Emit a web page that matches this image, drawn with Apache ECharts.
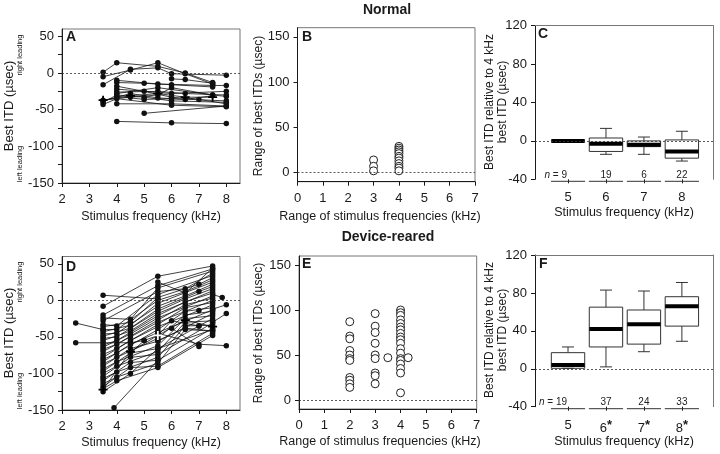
<html>
<head>
<meta charset="utf-8">
<script src="https://cdn.jsdelivr.net/npm/echarts@6/dist/echarts.min.js"></script>
</head>
<body>
<style>
    html, body, #main { width: 720px; height: 454px; margin: 0; background: #fff; }
</style>
<div id="main"></div>
<script>
// ---- data ----
// best ITD vs frequency, one array per unit (Normal)
var normalLines = [
    [[3.5, 1], [4, 14], [5.5, 9], [6.5, 0], [7.5, -13]],
    [[3.5, -5], [4.5, 4], [5.5, 14], [6.5, -1], [7.5, -15]],
    [[3.5, -16], [4.5, 5], [5.5, 7], [6, -1], [8, -3]],
    [[4, -10], [5.5, -15], [7.5, -17], [8, -17]],
    [[4, -13], [5, -14], [6, -16], [7.5, -19]],
    [[4, -22], [6, -28], [8, -25]],
    [[4, -28], [5.5, -20], [7.5, -30], [8, -32]],
    [[4, -32], [5, -36], [6, -35], [8, -38]],
    [[4, -42], [6, -42], [8, -45]],
    [[3.5, -40], [4, -30], [5, -33], [6, -38], [8, -40]],
    [[3.5, -43], [4, -35], [6, -44], [8, -46]],
    [[3.5, -37], [4.5, -33], [5.5, -30], [6, -20], [7.5, -30]],
    [[4, -66], [6, -68], [8, -69]],
    [[5, -55], [8, -45]],
    [[4, -26], [5.5, -25], [6.5, -28], [8, -30]],
    [[4, -18], [5, -25], [6, -33], [7, -36], [8, -42]],
    [[3.5, -38], [4.5, -28], [5.5, -34], [6.5, -36], [7.5, -31]],
    [[6, -8], [6.5, -9], [7.5, -14]]
];
var normalMean = [[3.5, -37], [4.5, -31], [5.5, -28], [6.5, -33], [7.5, -33]];

// best ITD vs frequency (Device-reared)
var rearedLines = [
    [[2.5, -31], [3.5, -40]],
    [[2.5, -58], [3.5, -58], [4.5, -58], [5, -55]],
    [[3.5, 7], [5.5, 2]],
    [[3.5, -8], [5.5, 33], [7.5, 47]],
    [[3.5, -20], [5.5, 20], [7.5, 43]],
    [[3.5, -24], [4.5, -26], [5.5, 17], [7.5, 40]],
    [[3.5, -28], [5.5, 12], [6.5, 16], [7.5, 37]],
    [[3.5, -33], [4, -35], [5.5, 8], [7.5, 34]],
    [[3.5, -36], [4.5, -30], [5.5, 4], [7, 22], [7.5, 31]],
    [[3.5, -40], [4, -40], [5.5, 0], [6.5, 12], [7.5, 28]],
    [[3.5, -43], [4.5, -34], [5.5, -4], [7.5, 25]],
    [[3.5, -46], [4, -45], [5.5, -8], [6.5, 6], [7.5, 22]],
    [[3.5, -49], [4.5, -38], [5.5, -12], [7, 12], [7.5, 19]],
    [[3.5, -52], [4, -50], [5.5, -15], [6.5, 2], [7.5, 16]],
    [[3.5, -55], [4.5, -42], [5.5, -18], [7.5, 13]],
    [[3.5, -61], [4, -55], [5.5, -21], [6.5, -2], [7.5, 10]],
    [[3.5, -64], [4.5, -46], [5.5, -24], [7.5, 6]],
    [[3.5, -67], [4, -60], [5.5, -27], [6.5, -6], [7.5, 3]],
    [[3.5, -70], [4.5, -50], [5.5, -30], [7.5, 0]],
    [[3.5, -74], [4, -66], [5.5, -33], [6.5, -10], [7.5, -3]],
    [[3.5, -78], [4.5, -55], [5.5, -36], [7, -14], [7.5, -6]],
    [[3.5, -81], [4, -72], [5.5, -40], [6.5, -15], [7.5, -10]],
    [[3.5, -84], [4.5, -60], [5.5, -44], [7.5, -13]],
    [[3.5, -87], [4, -78], [5.5, -52], [6.5, -20], [7.5, -15]],
    [[3.5, -90], [4.5, -66], [5.5, -56], [7.5, -18]],
    [[3.5, -94], [4, -84], [5.5, -62], [6.5, -25], [7.5, -21]],
    [[3.5, -97], [4.5, -72], [5.5, -66], [7, -35], [7.5, -25]],
    [[3.5, -100], [4, -90], [5.5, -70], [6.5, -30], [7.5, -28]],
    [[3.5, -104], [4.5, -78], [5.5, -74], [7.5, -31]],
    [[3.5, -107], [4, -98], [5.5, -78], [6.5, -35], [7.5, -34]],
    [[3.5, -110], [4.5, -85], [5.5, -82], [7.5, -38]],
    [[3.5, -114], [4, -105], [5.5, -86], [6.5, -40], [7.5, -42]],
    [[3.5, -118], [4.5, -92], [5.5, -90], [7.5, -45]],
    [[3.5, -121], [4, -110], [5.5, -92], [7.5, -48]],
    [[3.5, -125], [4.5, -100], [5.5, -66], [7.5, -40]],
    [[3.9, -147], [5.5, -82]],
    [[4.5, -72], [5, -55], [5.5, -48], [6, -28], [7, -35]],
    [[5.5, -45], [7, -60], [8, -62]],
    [[6, -38], [7, -63]],
    [[7.5, 8], [7.85, 4]],
    [[7.5, -12], [8, -6]],
    [[7.5, -30], [8, -18]],
    [[5.5, -55], [6.5, -38], [7.5, -42]],
    [[5.5, 25], [6.5, 10], [7.5, 44]]
];
var rearedMean = [[3.5, -122], [4.5, -70], [5.5, -48], [6.5, -27], [7.5, -36]];

// range of best ITDs vs range of frequencies
var normalRange = [
    [3, 14], [3, 7], [3, 2],
    [4, 29], [4, 27], [4, 25], [4, 23], [4, 21], [4, 18], [4, 16], [4, 13], [4, 10], [4, 7], [4, 5], [4, 2]
];
var rearedRange = [
    [2, 87], [2, 71], [2, 68], [2, 55], [2, 50], [2, 46], [2, 44], [2, 25], [2, 22], [2, 18], [2, 14],
    [3, 96], [3, 82], [3, 75], [3, 63], [3, 50], [3, 46], [3, 30], [3, 27], [3, 18],
    [3.5, 47], [4.3, 47],
    [4, 100], [4, 97], [4, 94], [4, 89], [4, 85], [4, 81], [4, 78], [4, 74], [4, 70], [4, 67],
    [4, 63], [4, 57], [4, 52], [4, 46], [4, 44], [4, 40], [4, 35], [4, 30], [4, 8]
];

// box plots: [freq, lowWhisker, q1, median, q3, highWhisker]
var freqCats = [5, 6, 7, 8];
var normalBox = [[5, 0, 0, 0, 0, 0], [6, -14, -11, -3, 3, 13], [7, -14, -6, -4, 0, 4], [8, -21, -18, -11, 1, 10]];
var rearedBox = [[5, 0.5, 0.5, 4, 17, 23], [6, 2, 23, 42, 65, 83], [7, 18, 26, 47, 62, 82], [8, 29, 45, 66, 76, 91]];
var normalN = [9, 19, 6, 22];
var rearedN = [19, 37, 24, 33];
var rearedSig = [false, true, true, true];

// ---- chart ----
var FONT = 'Liberation Sans, Arial, Helvetica, sans-serif';
var INK = '#1a1a1a';
var chart = echarts.init(document.getElementById('main'));

function frame(left, top, width, height, border) {
    return { left: left, top: top, width: width, height: height, show: border,
        borderColor: '#777', borderWidth: 1, backgroundColor: 'transparent', outerBoundsMode: 'none' };
}

function valAxis(gi, min, max, labels, ticks, margin, pos) {
    return {
        type: 'value', gridIndex: gi, min: min, max: max, position: pos,
        axisLine: { show: true, onZero: false, lineStyle: { color: INK, width: 1 } },
        axisTick: { show: true, length: 4, customValues: ticks, lineStyle: { color: INK } },
        axisLabel: { customValues: labels, fontSize: 13, color: INK, fontFamily: FONT, margin: margin },
        splitLine: { show: false }
    };
}

function catAxis(gi, sig) {
    return {
        type: 'value', gridIndex: gi, min: 4.13, max: 8.82,
        axisLine: { show: false, onZero: false },
        axisTick: { show: true, length: 4, customValues: freqCats, lineStyle: { color: INK } },
        axisLabel: {
            customValues: freqCats, fontSize: 13, color: INK, fontFamily: FONT, margin: 12,
            formatter: function (v) {
                var i = freqCats.indexOf(v);
                return (sig && sig[i]) ? v + '{s|*}' : '' + v;
            },
            rich: { s: { fontSize: 13, fontWeight: 'bold', color: INK, fontFamily: FONT, padding: [0, 0, 6, 0] } }
        },
        splitLine: { show: false }
    };
}

function frameAxis(gi, pos, isX, min, max) {
    return {
        type: 'value', gridIndex: gi, position: pos, min: min, max: max,
        axisLine: { show: true, onZero: false, lineStyle: { color: '#777', width: 1 } },
        axisTick: { show: false }, axisLabel: { show: false }, splitLine: { show: false }
    };
}

var zeroMark = {
    silent: true, symbol: 'none', label: { show: false },
    lineStyle: { type: [2, 2], color: '#333', width: 0.8 },
    data: [{ yAxis: 0 }]
};

var series = [];

function addLines(lines, gi, mean) {
    lines.forEach(function (l, i) {
        series.push({
            type: 'line', xAxisIndex: gi, yAxisIndex: gi, data: l,
            symbol: 'circle', symbolSize: 5.5, silent: true, animation: false,
            lineStyle: { color: '#111', width: 0.8 }, itemStyle: { color: '#111' },
            markLine: i === 0 ? zeroMark : undefined, z: 3
        });
    });
    series.push({
        type: 'line', xAxisIndex: gi, yAxisIndex: gi,
        data: mean.map(function (p, j) {
            return (gi === 3 && j === 2) ? { value: p, itemStyle: { color: '#fff' } } : p;
        }),
        symbol: 'path://M4,0H6V4H10V6H6V10H4V6H0V4H4Z', symbolSize: 9, silent: true, animation: false,
        lineStyle: { color: '#111', width: 0.8 }, itemStyle: { color: '#000' }, z: 4
    });
}

function addRange(pts, gi) {
    series.push({
        type: 'scatter', xAxisIndex: gi, yAxisIndex: gi, data: pts,
        symbol: 'circle', symbolSize: 8, silent: true, animation: false,
        itemStyle: { color: '#fff', borderColor: '#222', borderWidth: 1, opacity: 1 },
        markLine: zeroMark, z: 3
    });
}

function renderBox(params, api) {
    var x = api.value(0);
    var c = function (v) { return api.coord([x, v]); };
    var lo = c(api.value(1)), q1 = c(api.value(2)), md = c(api.value(3)),
        q3 = c(api.value(4)), hi = c(api.value(5));
    var hw = api.size([1, 0])[0] * 0.44, cw = 6, cx = md[0];
    var thin = { stroke: '#333', lineWidth: 1, fill: null };
    return {
        type: 'group', children: [
            { type: 'line', shape: { x1: cx, y1: hi[1], x2: cx, y2: q3[1] }, style: thin },
            { type: 'line', shape: { x1: cx - cw, y1: hi[1], x2: cx + cw, y2: hi[1] }, style: thin },
            { type: 'line', shape: { x1: cx, y1: q1[1], x2: cx, y2: lo[1] }, style: thin },
            { type: 'line', shape: { x1: cx - cw, y1: lo[1], x2: cx + cw, y2: lo[1] }, style: thin },
            { type: 'rect', shape: { x: cx - hw, y: q3[1], width: 2 * hw, height: q1[1] - q3[1] },
              style: { stroke: '#333', fill: null, lineWidth: 1 } },
            { type: 'line', shape: { x1: cx - hw, y1: md[1], x2: cx + hw, y2: md[1] },
              style: { stroke: '#000', lineWidth: 4 } }
        ]
    };
}

function renderN(params, api) {
    var p = api.coord([api.value(0), -40]);
    var hw = api.size([1, 0])[0] * 0.45;
    var first = params.dataIndex === 0;
    return {
        type: 'group', children: [
            { type: 'line', shape: { x1: p[0] - hw, y1: p[1] + 2, x2: p[0] + hw, y2: p[1] + 2 },
              style: { stroke: '#333', lineWidth: 1 } },
            { type: 'text', style: {
                text: first ? '{i|n} = ' + api.value(1) : '' + api.value(1),
                x: first ? p[0] - 1 : p[0], y: p[1] + 0.5,
                textAlign: first ? 'right' : 'center', textVerticalAlign: 'bottom',
                font: '10px ' + FONT, fill: '#222',
                rich: { i: { fontStyle: 'italic', fontSize: 10, fontFamily: FONT } }
            } }
        ]
    };
}

function addBoxes(boxes, ns, gi) {
    series.push({
        type: 'custom', xAxisIndex: gi, yAxisIndex: gi, data: boxes, renderItem: renderBox,
        silent: true, animation: false, clip: false, z: 3, markLine: zeroMark
    });
    series.push({
        type: 'custom', xAxisIndex: gi, yAxisIndex: gi,
        data: freqCats.map(function (f, i) { return [f, ns[i]]; }),
        renderItem: renderN, silent: true, animation: false, clip: false, z: 3
    });
}

addLines(normalLines, 0, normalMean);
addRange(normalRange, 1);
addBoxes(normalBox, normalN, 2);
addLines(rearedLines, 3, rearedMean);
addRange(rearedRange, 4);
addBoxes(rearedBox, rearedN, 5);

var itdLabels = [-150, -100, -50, 0, 50];
var itdTicks = [-150, -125, -100, -75, -50, -25, 0, 25, 50];
var freqLabels = [2, 3, 4, 5, 6, 7, 8];
var rangeX = [0, 1, 2, 3, 4, 5, 6, 7];
var rangeY = [0, 50, 100, 150];
var relY = [-40, 0, 40, 80, 120];

function txt(x, y, text, size, opt) {
    opt = opt || {};
    return {
        type: 'text', x: x, y: y, rotation: opt.rot || 0, silent: true,
        style: {
            text: text, x: 0, y: 0, fill: INK,
            font: (opt.bold ? 'bold ' : '') + size + 'px ' + FONT,
            textAlign: opt.align || 'center', textVerticalAlign: opt.valign || 'middle',
            lineHeight: opt.lh
        }
    };
}

var R = Math.PI / 2;
var graphics = [
    txt(387, 10, 'Normal', 14, { bold: true }),
    txt(388, 237.5, 'Device-reared', 14, { bold: true }),
    txt(66, 30.5, 'A', 14, { bold: true, align: 'left', valign: 'top' }),
    txt(302, 30.5, 'B', 14, { bold: true, align: 'left', valign: 'top' }),
    txt(538, 27.5, 'C', 14, { bold: true, align: 'left', valign: 'top' }),
    txt(66, 260.5, 'D', 14, { bold: true, align: 'left', valign: 'top' }),
    txt(302, 257.5, 'E', 14, { bold: true, align: 'left', valign: 'top' }),
    txt(539, 257.5, 'F', 14, { bold: true, align: 'left', valign: 'top' }),
    txt(151, 217, 'Stimulus frequency (kHz)', 12.5),
    txt(380, 217, 'Range of stimulus frequencies (kHz)', 12.5),
    txt(624, 213, 'Stimulus frequency (kHz)', 12.5),
    txt(151, 443, 'Stimulus frequency (kHz)', 12.5),
    txt(380, 442, 'Range of stimulus frequencies (kHz)', 12.5),
    txt(624, 442, 'Stimulus frequency (kHz)', 12.5),
    txt(9.5, 106, 'Best ITD (\u00b5sec)', 13, { rot: R }),
    txt(20, 55, 'right leading', 7.5, { rot: R }),
    txt(20, 164, 'left leading', 7.5, { rot: R }),
    txt(9.5, 333, 'Best ITD (\u00b5sec)', 13, { rot: R }),
    txt(20, 282, 'right leading', 7.5, { rot: R }),
    txt(20, 391, 'left leading', 7.5, { rot: R }),
    txt(259, 106, 'Range of best ITDs (\u00b5sec)', 12, { rot: R }),
    txt(259, 333, 'Range of best ITDs (\u00b5sec)', 12, { rot: R }),
    txt(496.5, 102, 'Best ITD relative to 4 kHz\nbest ITD (\u00b5sec)', 12, { rot: R, lh: 13 }),
    txt(496.5, 330, 'Best ITD relative to 4 kHz\nbest ITD (\u00b5sec)', 12, { rot: R, lh: 13 })
];

chart.setOption({
    animation: false,
    backgroundColor: '#fff',
    textStyle: { fontFamily: FONT },
    grid: [
        frame(62, 29, 178, 154, true),
        frame(297.5, 27.7, 177.5, 154, true),
        frame(535, 25.6, 178, 153.7, false),
        frame(62, 256.5, 178, 153.5, true),
        frame(299, 256, 177.7, 153, true),
        frame(535, 255, 178, 151.7, false)
    ],
    xAxis: [
        valAxis(0, 2, 8.5, freqLabels, freqLabels, 10),
        valAxis(1, 0, 7, rangeX, rangeX, 10),
        catAxis(2, null),
        valAxis(3, 2, 8.5, freqLabels, freqLabels, 10),
        valAxis(4, 0, 7, rangeX, rangeX, 10),
        catAxis(5, rearedSig),
        frameAxis(2, 'top', true, 4.13, 8.82),
        frameAxis(5, 'top', true, 4.13, 8.82)
    ],
    yAxis: [
        valAxis(0, -150, 60, itdLabels, itdTicks, 8),
        valAxis(1, -10, 160, rangeY, rangeY, 8),
        valAxis(2, -40, 120, relY, relY, 8),
        valAxis(3, -150, 60, itdLabels, itdTicks, 8),
        valAxis(4, -10, 160, rangeY, rangeY, 8),
        valAxis(5, -40, 120, relY, relY, 8),
        frameAxis(2, 'right', false, -40, 120),
        frameAxis(5, 'right', false, -40, 120)
    ],
    graphic: graphics,
    series: series
});
</script>
</body>
</html>
